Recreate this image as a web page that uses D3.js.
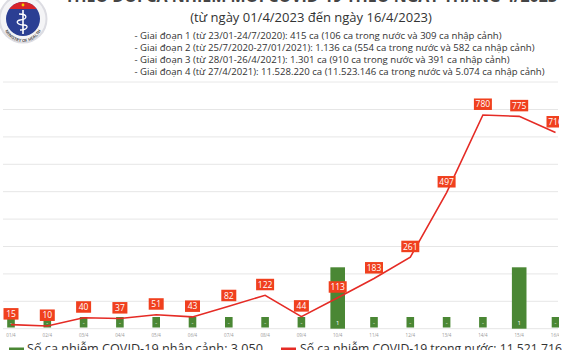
<!DOCTYPE html>
<html><head><meta charset="utf-8">
<script src="https://cdn.jsdelivr.net/npm/d3@7/dist/d3.min.js"></script>
<style>html,body{margin:0;padding:0;background:#fff;overflow:hidden}</style>
</head><body>
<script>
const dates = ["01/4","02/4","03/4","04/4","05/4","06/4","07/4","08/4","09/4","10/4","11/4","12/4","13/4","14/4","15/4","16/4"];
const cases = [15,10,40,37,51,43,82,122,44,113,183,261,497,780,775,716];
const imported = [0,0,0,0,0,0,0,0,0,1,0,0,0,0,1,0];
const gridTicks = [0,100,200,300,400,500,600,700,800];
const title = "THEO DÕI CA NHIỄM MỚI COVID-19 THEO NGÀY THÁNG 4/2023";
const subtitle = "(từ ngày 01/4/2023 đến ngày 16/4/2023)";
const phases = [
 "- Giai đoạn 1 (từ 23/01-24/7/2020): 415 ca (106 ca trong nước và 309 ca nhập cảnh)",
 "- Giai đoạn 2 (từ 25/7/2020-27/01/2021): 1.136 ca (554 ca trong nước và 582 ca nhập cảnh)",
 "- Giai đoạn 3 (từ 28/01-26/4/2021): 1.301 ca (910 ca trong nước và 391 ca nhập cảnh)",
 "- Giai đoạn 4 (từ 27/4/2021): 11.528.220 ca (11.523.146 ca trong nước và 5.074 ca nhập cảnh)"
];
const phaseWidths = [367, 400, 375, 410];
const legendTexts = ["Số ca nhiễm COVID-19 nhập cảnh: 3.050", "Số ca nhiễm COVID-19 trong nước: 11.521.716"];

const W = 570, H = 350;
const svg = d3.select("body").append("svg").attr("width", W).attr("height", H)
  .style("font-family", "'Open Sans', 'Liberation Sans', sans-serif");

const defs = svg.append("defs");
defs.append("clipPath").attr("id","clip")
  .append("rect").attr("x",0).attr("y",0).attr("width",559).attr("height",H);
defs.append("clipPath").attr("id","logoClip")
  .append("circle").attr("cx",23).attr("cy",19).attr("r",17);
defs.append("path").attr("id","logoArc").attr("d","M3,22 A20,20 0 0,0 43,22");

// Logo
const logo = svg.append("g");
logo.append("circle").attr("cx",23).attr("cy",19).attr("r",24.5).attr("fill","#dcdce2");
logo.append("circle").attr("cx",23).attr("cy",19).attr("r",22.5).attr("fill","#f4f4f6");
logo.append("circle").attr("cx",23).attr("cy",19).attr("r",17).attr("fill","#2b3f93");
logo.append("rect").attr("x",0).attr("y",0).attr("width",46).attr("height",9).attr("fill","#d8232a").attr("clip-path","url(#logoClip)");
logo.append("line").attr("x1",23).attr("y1",10).attr("x2",23).attr("y2",34).attr("stroke","#fff").attr("stroke-width",1.6);
logo.append("path").attr("d","M19,14 C28,14 28,19 20,20 C15,21 17,25 24,25 C29,25 28,30 20,30")
  .attr("fill","none").attr("stroke","#fff").attr("stroke-width",1.3);
logo.append("circle").attr("cx",23).attr("cy",5).attr("r",1.4).attr("fill","#f5d000");
logo.append("text").attr("font-size",4.2).attr("fill","#555").attr("font-weight","bold")
  .append("textPath").attr("href","#logoArc").attr("startOffset","50%").attr("text-anchor","middle")
  .text("MINISTRY OF HEALTH");

// Title
svg.append("text").attr("x",311).attr("y",2).attr("text-anchor","middle").attr("font-size",16)
  .attr("font-weight","bold").attr("fill","#444").text(title);
svg.append("text").attr("x",311).attr("y",22).attr("text-anchor","middle").attr("font-size",13)
  .attr("fill","#333").text(subtitle);
phases.forEach((p,i)=>{
  svg.append("text").attr("x",134.5).attr("y",39+i*12).attr("font-size",9.2).attr("fill","#333")
    .attr("textLength", phaseWidths[i]).attr("lengthAdjust","spacingAndGlyphs").text(p);
});
svg.append("line").attr("x1",3).attr("x2",558).attr("y1",82).attr("y2",82).attr("stroke","#e8e8e8").attr("stroke-width",1);

// Scales
const x = d3.scaleBand().domain(dates).range([-7.15, 573.65]).padding(0);
const cx = d => x(d) + x.bandwidth()/2;
const y = d3.scaleLinear().domain([0,800]).range([328.7,109.5]);
const yb = d3.scaleLinear().domain([0,3.57]).range([328.7,109.5]);

const plot = svg.append("g").attr("clip-path","url(#clip)");
plot.selectAll(".grid").data(gridTicks).join("line")
  .attr("x1",3).attr("x2",558).attr("y1",d=>y(d)).attr("y2",d=>y(d))
  .attr("stroke","#e6e6e6").attr("stroke-width",1);

// Bars
const bars = plot.selectAll(".bar").data(dates.map((d,i)=>({d, v:imported[i]}))).join("g");
bars.append("rect")
  .attr("x", d => cx(d.d) - (d.v>0 ? 7.3 : 3.8))
  .attr("width", d => d.v>0 ? 14.6 : 7.6)
  .attr("y", d => d.v>0 ? yb(d.v) : 317)
  .attr("height", d => d.v>0 ? yb(0)-yb(d.v) : 10.5)
  .attr("fill","#4a8734");
bars.append("text").attr("x", d=>cx(d.d)).attr("y",324.5).attr("text-anchor","middle")
  .attr("font-size",6).attr("fill","#fff").text(d => d.v>0 ? d.v : "-");

// Line
const line = d3.line().x((v,i)=>cx(dates[i])).y(v=>y(v));
plot.append("path").datum(cases).attr("d",line).attr("fill","none")
  .attr("stroke","#e52b25").attr("stroke-width",1.6);

// Labels
const lab = plot.selectAll(".lab").data(cases).join("g");
lab.append("rect")
  .attr("x",(v,i)=>cx(dates[i]) - (String(v).length>2 ? 9 : 7.5))
  .attr("width",v=> String(v).length>2 ? 18 : 15)
  .attr("y",v=>y(v)-16.5).attr("height",11.5).attr("fill","#f0401e");
lab.append("text").attr("x",(v,i)=>cx(dates[i])).attr("y",v=>y(v)-7.5)
  .attr("text-anchor","middle").attr("font-size",8.5).attr("fill","#fff").text(v=>v);

// X labels
plot.selectAll(".xl").data(dates).join("text")
  .attr("x",d=>cx(d)).attr("y",337).attr("text-anchor","middle")
  .attr("font-size",4.5).attr("fill","#999").text(d=>d);

// Legend (cut off at bottom)
svg.append("line").attr("x1",9).attr("x2",24).attr("y1",349).attr("y2",349).attr("stroke","#4a8734").attr("stroke-width",3);
svg.append("text").attr("x",27).attr("y",352.5).attr("font-size",13).attr("fill","#333")
  .attr("textLength",236).attr("lengthAdjust","spacingAndGlyphs").text(legendTexts[0]);
svg.append("line").attr("x1",281).attr("x2",296).attr("y1",349).attr("y2",349).attr("stroke","#e52b25").attr("stroke-width",3);
svg.append("text").attr("x",300).attr("y",352.5).attr("font-size",13).attr("fill","#333")
  .attr("textLength",262).attr("lengthAdjust","spacingAndGlyphs").text(legendTexts[1]);
</script>
</body></html>
